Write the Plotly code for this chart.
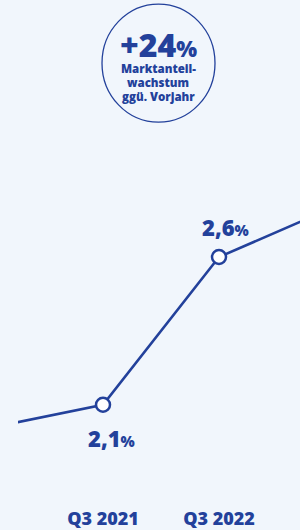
import plotly.graph_objects as go

# Data
quarters = ["Q3 2020", "Q3 2021", "Q3 2022", "Q3 2023"]
x_pos = [-1, 0, 1, 2]
share = [2.02, 2.1, 2.6, 2.77]
labeled_idx = [1, 2]
label_text = ["2,1", "2,6"]
tick_vals = [0, 1]
tick_text = ["Q3 2021", "Q3 2022"]
badge_value = "+24"
badge_lines = ["Marktanteil-", "wachstum", "ggü. Vorjahr"]

BLUE = "#23419b"
BG = "#f1f6fc"
FONT = "Open Sans"
WT = 800

W, H = 300, 530
ML, MR, MT, MB = 18, 0, 140, 30
pw, ph = W - ML - MR, H - MT - MB

def px_x(p):
    return (p - ML) / pw

def px_y(p):
    return (H - MB - p) / ph

fig = go.Figure()
fig.add_trace(go.Scatter(
    x=x_pos, y=share, mode="lines",
    line=dict(color=BLUE, width=2.6),
    hoverinfo="skip", showlegend=False,
))
fig.add_trace(go.Scatter(
    x=[x_pos[i] for i in labeled_idx], y=[share[i] for i in labeled_idx],
    mode="markers",
    marker=dict(size=14, color="white", line=dict(color=BLUE, width=2.5)),
    hoverinfo="skip", showlegend=False, cliponaxis=False,
))

# value labels
offsets = [(8, -33), (6, 30)]
for (i, t, (dx, dy)) in zip(labeled_idx, label_text, offsets):
    fig.add_annotation(
        x=x_pos[i], y=share[i], xref="x", yref="y",
        xanchor="center", yanchor="middle",
        text=f"{t}<span style='font-size:15px'>%</span>",
        showarrow=False, xshift=dx, yshift=dy,
        font=dict(family=FONT, size=22, color=BLUE, weight=WT),
    )

# badge
fig.add_shape(type="circle", xref="paper", yref="paper",
              x0=px_x(102), x1=px_x(215), y0=px_y(122), y1=px_y(3),
              line=dict(color=BLUE, width=1.3), fillcolor="rgba(0,0,0,0)")
fig.add_annotation(
    x=px_x(158), y=px_y(44), xref="paper", yref="paper",
    xanchor="center", yanchor="middle",
    text=f"{badge_value}<span style='font-size:22px'>%</span>",
    showarrow=False, font=dict(family=FONT, size=32, color=BLUE, weight=WT),
)
for txt, yy in zip(badge_lines, [68, 82, 96]):
    fig.add_annotation(
        x=px_x(158), y=px_y(yy), xref="paper", yref="paper",
        xanchor="center", yanchor="middle",
        text=txt, showarrow=False,
        font=dict(family=FONT, size=11.5, color=BLUE, weight=WT),
    )

fig.update_layout(
    width=W, height=H,
    margin=dict(l=ML, r=MR, t=MT, b=MB),
    paper_bgcolor=BG, plot_bgcolor=BG,
    xaxis=dict(
        range=[-85 / 116, 1 + 81 / 116],
        tickvals=tick_vals, ticktext=tick_text,
        showgrid=False, zeroline=False, showline=False,
        ticks="outside", ticklen=5, tickcolor="rgba(0,0,0,0)",
        tickfont=dict(family=FONT, size=18, color=BLUE, weight=WT),
        fixedrange=True,
    ),
    yaxis=dict(
        range=[2.1 - 93 / 298, 2.1 + 267 / 298],
        showgrid=False, zeroline=False, showline=False, showticklabels=False,
        fixedrange=True,
    ),
)

fig.write_html(
    "out.html",
    config={"displayModeBar": False},
    post_script="document.body.style.margin='0';document.body.style.overflow='hidden';"
                "document.documentElement.style.overflow='hidden';",
)
